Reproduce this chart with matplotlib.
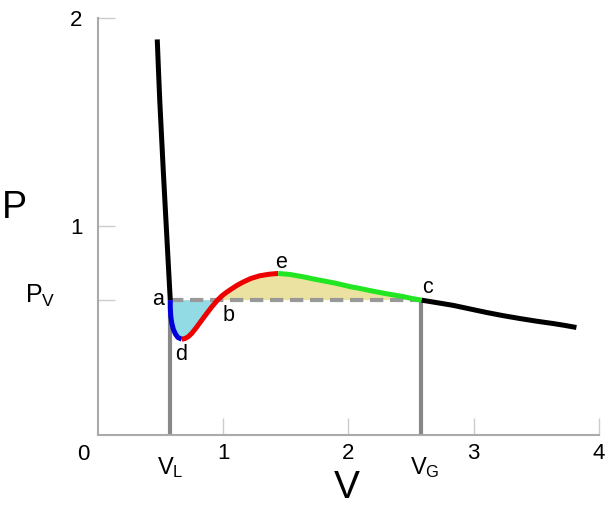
import matplotlib
matplotlib.use('Agg')
from matplotlib import pyplot as plt

plt.rcParams['font.family'] = ['Liberation Sans', 'DejaVu Sans']
plt.rcParams['mathtext.fontset'] = 'custom'
plt.rcParams['mathtext.rm'] = 'Liberation Sans'
plt.rcParams['mathtext.it'] = 'Liberation Sans'

# isotherm, split by colour
left_V = [0.473, 0.483, 0.493, 0.507, 0.521, 0.536, 0.551, 0.564, 0.577]
left_P = [1.895, 1.746, 1.603, 1.435, 1.268, 1.100, 0.933, 0.789, 0.646]

blue_V = [0.577, 0.577, 0.581, 0.589, 0.601, 0.619, 0.638, 0.668]
blue_P = [0.646, 0.608, 0.569, 0.536, 0.507, 0.483, 0.467, 0.459]

red_V = [0.668, 0.694, 0.721, 0.750, 0.788, 0.822, 0.868, 0.906, 0.954,
         0.990, 1.027, 1.069, 1.113, 1.160, 1.221, 1.293, 1.365, 1.439]
red_P = [0.459, 0.462, 0.471, 0.488, 0.517, 0.545, 0.582, 0.612, 0.646,
         0.667, 0.684, 0.701, 0.718, 0.733, 0.750, 0.763, 0.770, 0.774]

green_V = [1.439, 1.532, 1.638, 1.732, 1.812, 1.905, 2.011, 2.091, 2.171,
           2.291, 2.370, 2.437, 2.506, 2.583]
green_P = [0.774, 0.769, 0.758, 0.746, 0.737, 0.726, 0.711, 0.702, 0.692,
           0.678, 0.670, 0.663, 0.654, 0.646]

right_V = [2.583, 2.706, 2.836, 2.969, 3.102, 3.232, 3.368, 3.504, 3.634, 3.727, 3.820]
right_P = [0.646, 0.634, 0.621, 0.604, 0.587, 0.572, 0.558, 0.545, 0.534, 0.525, 0.515]

P_V = 0.646
V_L = 0.577
V_b = 0.954
V_G = 2.583

point_names = ['a', 'b', 'c', 'd', 'e']
point_V = [0.479, 1.045, 2.634, 0.662, 1.460]
point_P = [0.622, 0.545, 0.679, 0.359, 0.799]

fig = plt.figure(figsize=(6.05, 5.12), dpi=100)
ax = fig.add_axes([0.162, 0.1504, 0.828, 0.8154])

# shaded areas between the loop and the vapour pressure line
low_V = blue_V + [v for v in red_V[1:] if v <= V_b]
low_P = blue_P + [p for v, p in zip(red_V[1:], red_P[1:]) if v <= V_b]
ax.fill(low_V, low_P, color='#93dbe4', lw=0, zorder=1)
high_V = [v for v in red_V if v >= V_b] + green_V[1:]
high_P = [p for v, p in zip(red_V, red_P) if v >= V_b] + green_P[1:]
ax.fill(high_V, high_P, color='#ebe2a2', lw=0, zorder=1)

# Maxwell line and the two volumes
ax.plot([V_L, V_G], [P_V, P_V], color='#999999', lw=3, dashes=(3.2, 1.6), zorder=2)
ax.plot([V_L, V_L], [0, P_V], color='#888888', lw=3, zorder=2, solid_capstyle='butt')
ax.plot([V_G, V_G], [0, P_V], color='#888888', lw=3, zorder=2, solid_capstyle='butt')

style = dict(lw=3.6, zorder=3, solid_joinstyle='round', solid_capstyle='butt')
ax.plot(left_V, left_P, color='black', **style)
ax.plot(right_V, right_P, color='black', **style)
ax.plot(blue_V, blue_P, color='#0000dd', **style)
ax.plot(red_V, red_P, color='#ee0000', **style)
ax.plot(green_V, green_P, color='#22e622', **style)

for name, v, p in zip(point_names, point_V, point_P):
    ax.text(v, p, name, fontsize=15.5, ha='center', va='baseline')

ax.set_xlim(0, 4)
ax.set_ylim(0, 2)
ax.set_xticks([1, 2, 3, 4])
ax.set_yticks([P_V, 1, 2])
ax.set_yticklabels(['', '1', '2'])
ax.tick_params(direction='in', length=12, width=1, color='#cccccc', labelsize=16)
ax.tick_params(axis='x', pad=6)
ax.tick_params(axis='y', pad=11)
for s in ['top', 'right']:
    ax.spines[s].set_visible(False)
for s in ['left', 'bottom']:
    ax.spines[s].set_color('#aaaaaa')
    ax.spines[s].set_linewidth(1.5)

ax.text(-0.120, -0.120, '0', fontsize=16, ha='center', va='baseline', clip_on=False)
ax.text(-0.670, 1.038, 'P', fontsize=27, ha='center', va='baseline', clip_on=False)
ax.text(1.987, -0.301, 'V', fontsize=28, ha='center', va='baseline', clip_on=False)
ax.text(-0.583, 0.632, r'$\mathrm{P_V}$', fontsize=18, ha='left', va='baseline', clip_on=False)
ax.text(0.471, -0.187, r'$\mathrm{V_L}$', fontsize=17, ha='left', va='baseline', clip_on=False)
ax.text(2.49, -0.187, r'$\mathrm{V_G}$', fontsize=17, ha='left', va='baseline', clip_on=False)

fig.savefig('out.png', dpi=100)
